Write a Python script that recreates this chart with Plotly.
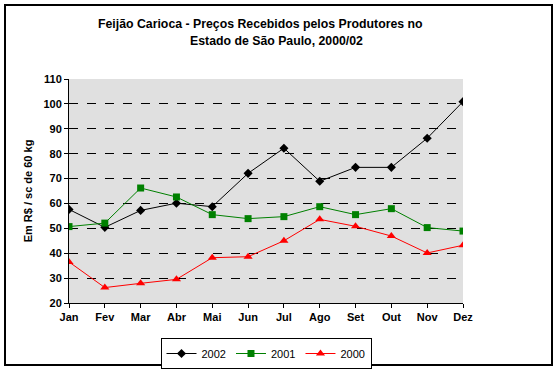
import plotly.graph_objects as go

months = ["Jan", "Fev", "Mar", "Abr", "Mai", "Jun", "Jul", "Ago", "Set", "Out", "Nov", "Dez"]
s2002 = [57.6, 50.4, 57.2, 60.1, 58.7, 72.1, 82.2, 68.9, 74.5, 74.5, 86.2, 100.9]
s2001 = [50.7, 52.1, 66.2, 62.6, 55.5, 53.9, 54.7, 58.7, 55.5, 57.9, 50.3, 48.9]
s2000 = [36.5, 26.2, 27.9, 29.5, 38.2, 38.6, 45.0, 53.6, 50.8, 46.9, 40.1, 43.2]
y_ticks = [20, 30, 40, 50, 60, 70, 80, 90, 100, 110]
grid_ticks = y_ticks[1:-1]

xpos = list(range(len(months)))
W, H = 559, 371
L, R, T, B = 69, 463, 79, 303

fig = go.Figure()
fig.add_trace(go.Scatter(x=xpos, y=s2002, name="2002", mode="lines+markers",
                         line=dict(color="black", width=1),
                         marker=dict(symbol="diamond", size=7, color="black")))
fig.add_trace(go.Scatter(x=xpos, y=s2001, name="2001", mode="lines+markers",
                         line=dict(color="#008000", width=1),
                         marker=dict(symbol="square", size=7, color="#008000")))
fig.add_trace(go.Scatter(x=xpos, y=s2000, name="2000", mode="lines+markers",
                         line=dict(color="#ff0000", width=1),
                         marker=dict(symbol="triangle-up", size=8, color="#ff0000")))
# invisible trace to hold the grid axis
fig.add_trace(go.Scatter(x=[xpos[0]], y=[y_ticks[0]], yaxis="y2", mode="markers",
                         marker=dict(opacity=0), showlegend=False, hoverinfo="skip"))

def px_x(p):
    return (p - L) / (R - L)

def px_y(p):
    return (B - p) / (B - T)

FAM = "Liberation Sans, Arial"
tickfont = dict(family=FAM, size=11, color="black", weight="bold")
frame = dict(color="black", width=2)
fig.update_layout(
    width=W, height=H,
    margin=dict(l=L, r=W - R, t=T, b=H - B, autoexpand=False),
    paper_bgcolor="white",
    plot_bgcolor="#e0e0e0",
    showlegend=True,
    legend=dict(orientation="h", x=0.5, xanchor="center",
                yref="container", y=1 - 338 / H, yanchor="top",
                bordercolor="black", borderwidth=1, bgcolor="white",
                font=dict(family=FAM, size=11, color="black"),
                itemwidth=30, tracegroupgap=0),
    xaxis=dict(range=[0, len(months) - 1], tickvals=xpos, ticktext=months,
               showgrid=False, zeroline=False, showline=True, linecolor="black", linewidth=1,
               ticks="outside", ticklen=4, tickcolor="black", tickfont=tickfont,
               fixedrange=True),
    yaxis=dict(range=[y_ticks[0], y_ticks[-1]], tickvals=y_ticks,
               showgrid=False, zeroline=False, showline=True, linecolor="black", linewidth=1,
               ticks="outside", ticklen=4, tickcolor="black", tickfont=tickfont,
               title=dict(text="Em R$ / sc de 60 kg",
                          font=dict(family=FAM, size=11, color="black", weight="bold"),
                          standoff=8)),
    yaxis2=dict(range=[y_ticks[0], y_ticks[-1]], tickvals=grid_ticks, overlaying="y",
                showgrid=True, gridcolor="black", griddash="dash", gridwidth=1,
                showticklabels=False, ticks="", zeroline=False, showline=False),
    shapes=[
        dict(type="rect", xref="paper", yref="paper",
             x0=px_x(5), x1=px_x(552), y0=px_y(365), y1=px_y(5),
             line=frame, fillcolor="rgba(0,0,0,0)", layer="above"),
    ],
    annotations=[
        dict(text="<b>Feijão Carioca - Preços Recebidos pelos Produtores no</b>",
             xref="paper", yref="paper", x=px_x(260), y=px_y(24), showarrow=False,
             xanchor="center", yanchor="middle",
             font=dict(family=FAM, size=12.3, color="black")),
        dict(text="<b>Estado de São Paulo, 2000/02</b>",
             xref="paper", yref="paper", x=px_x(276), y=px_y(41), showarrow=False,
             xanchor="center", yanchor="middle",
             font=dict(family=FAM, size=12.3, color="black")),
    ],
)

fig.write_html("out.html", config={"displayModeBar": False},
               post_script="document.body.style.margin='0';")
